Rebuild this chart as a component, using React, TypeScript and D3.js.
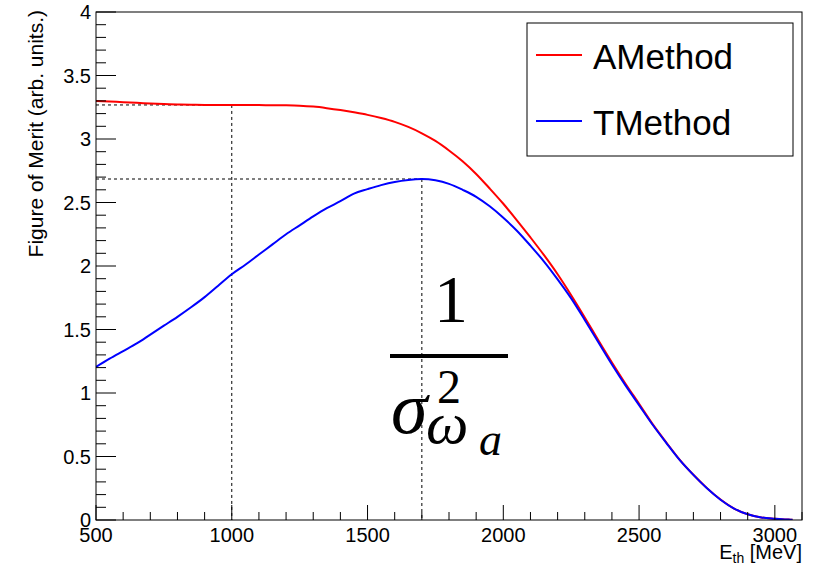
import React from 'react';
import * as d3 from 'd3';

// Threshold energy grid [MeV]
const energies = [
  500, 550, 600, 650, 700, 750, 800, 850, 900, 950,
  1000, 1050, 1100, 1150, 1200, 1250, 1300, 1350, 1400, 1450,
  1500, 1550, 1600, 1650, 1700, 1750, 1800, 1850, 1900, 1950,
  2000, 2050, 2100, 2150, 2200, 2250, 2300, 2350, 2400, 2450,
  2500, 2550, 2600, 2650, 2700, 2750, 2800, 2850, 2900, 2950,
  3000, 3050, 3065,
];

// Figure of merit, A-method
const aMethod = [
  3.30, 3.295, 3.29, 3.285, 3.279, 3.275, 3.272, 3.27, 3.268, 3.268,
  3.268, 3.268, 3.267, 3.266, 3.265, 3.262, 3.255, 3.243, 3.228, 3.21,
  3.19, 3.165, 3.135, 3.095, 3.045, 2.985, 2.91, 2.825, 2.725, 2.61,
  2.49, 2.36, 2.225, 2.085, 1.935, 1.77, 1.595, 1.415, 1.24, 1.073,
  0.915, 0.755, 0.612, 0.474, 0.356, 0.251, 0.161, 0.09, 0.045, 0.02,
  0.01, 0.003, 0.001,
];

// Figure of merit, T-method
const tMethod = [
  1.205, 1.27, 1.33, 1.39, 1.46, 1.53, 1.60, 1.675, 1.755, 1.845,
  1.935, 2.01, 2.09, 2.17, 2.25, 2.32, 2.39, 2.455, 2.51, 2.57,
  2.605, 2.637, 2.662, 2.678, 2.685, 2.675, 2.647, 2.60, 2.545, 2.47,
  2.38, 2.278, 2.16, 2.035, 1.895, 1.745, 1.575, 1.40, 1.225, 1.06,
  0.905, 0.75, 0.608, 0.471, 0.355, 0.25, 0.16, 0.09, 0.045, 0.02,
  0.01, 0.003, 0.001,
];

const xTicks = [500, 1000, 1500, 2000, 2500, 3000];
const xTickLabels = ['500', '1000', '1500', '2000', '2500', '3000'];
const yTicks = [0, 0.5, 1, 1.5, 2, 2.5, 3, 3.5, 4];
const yTickLabels = ['0', '0.5', '1', '1.5', '2', '2.5', '3', '3.5', '4'];

const seriesNames = ['AMethod', 'TMethod'];
const seriesColors = ['#ff0000', '#0000ff'];

// Reference energies for the guide lines
const refEnergyA = 1000;
const refEnergyT = 1700;

const W = 813;
const H = 563;
const FONT = '"Liberation Sans", Arial, Helvetica, sans-serif';
const SERIF = '"Liberation Serif", "DejaVu Serif", serif';

export default function App() {
  const x = d3.scaleLinear().domain([500, 3100]).range([96, 802]);
  const y = d3.scaleLinear().domain([0, 4]).range([520, 12]);
  const [x0, x1] = x.range();
  const [yb, yt] = y.range();

  const line = d3
    .line<number>()
    .x((_, i) => x(energies[i]))
    .y((d) => y(d))
    .curve(d3.curveMonotoneX);

  const xMinor = d3.range(500, 3101, 100).filter((v) => v % 500 !== 0);
  const yMinor = d3.range(0, 41).map((v) => v / 10).filter((v) => Math.round(v * 10) % 5 !== 0);

  const aRef = aMethod[energies.indexOf(refEnergyA)];
  const tRef = tMethod[energies.indexOf(refEnergyT)];

  return (
    <div style={{ position: 'fixed', left: 0, top: 0 }}>
      <svg width={W} height={H} style={{ display: 'block', background: '#fff' }}>
        <defs>
          <clipPath id="frame">
            <rect x={x0} y={yt} width={x1 - x0} height={yb - yt} />
          </clipPath>
        </defs>

        {/* guide lines */}
        <g stroke="#000" strokeWidth={1} strokeDasharray="3,3" fill="none">
          <line x1={x0} x2={x(refEnergyA)} y1={y(aRef)} y2={y(aRef)} />
          <line x1={x(refEnergyA)} x2={x(refEnergyA)} y1={y(aRef)} y2={yb} />
          <line x1={x0} x2={x(refEnergyT)} y1={y(tRef)} y2={y(tRef)} />
          <line x1={x(refEnergyT)} x2={x(refEnergyT)} y1={y(tRef)} y2={yb} />
        </g>

        {/* curves */}
        <g clipPath="url(#frame)" fill="none" strokeWidth={2}>
          <path d={line(aMethod) || ''} stroke={seriesColors[0]} />
          <path d={line(tMethod) || ''} stroke={seriesColors[1]} />
        </g>

        {/* frame */}
        <rect x={x0} y={yt} width={x1 - x0} height={yb - yt} fill="none" stroke="#000" strokeWidth={1} />

        {/* axis ticks */}
        <g stroke="#000" strokeWidth={1}>
          {xTicks.map((v) => (
            <line key={'xm' + v} x1={x(v)} x2={x(v)} y1={yb} y2={yb - 15} />
          ))}
          {xMinor.map((v) => (
            <line key={'xn' + v} x1={x(v)} x2={x(v)} y1={yb} y2={yb - 8} />
          ))}
          {yTicks.map((v) => (
            <line key={'ym' + v} x1={x0} x2={x0 + 20} y1={y(v)} y2={y(v)} />
          ))}
          {yMinor.map((v) => (
            <line key={'yn' + v} x1={x0} x2={x0 + 10} y1={y(v)} y2={y(v)} />
          ))}
        </g>

        {/* tick labels */}
        <g fontFamily={FONT} fontSize={20} fill="#000">
          {xTicks.map((v, i) => (
            <text key={'xl' + v} x={x(v)} y={542} textAnchor="middle">
              {xTickLabels[i]}
            </text>
          ))}
          {yTicks.map((v, i) => (
            <text key={'yl' + v} x={91} y={y(v) + 7} textAnchor="end">
              {yTickLabels[i]}
            </text>
          ))}
        </g>

        {/* axis titles */}
        <text
          fontFamily={FONT}
          fontSize={21}
          textAnchor="end"
          transform={`translate(43,${yt - 2}) rotate(-90)`}
        >
          Figure of Merit (arb. units.)
        </text>
        <text fontFamily={FONT} fontSize={20} x={x1} y={559} textAnchor="end">
          E
          <tspan fontSize={14} dy={4}>th</tspan>
          <tspan dy={-4}> [MeV]</tspan>
        </text>

        {/* legend */}
        <g>
          <rect x={527} y={23} width={266} height={133} fill="#fff" stroke="#000" strokeWidth={1} />
          {seriesNames.map((name, i) => (
            <g key={name}>
              <line x1={536} x2={582} y1={55 + i * 66} y2={55 + i * 66} stroke={seriesColors[i]} strokeWidth={2} />
              <text x={593} y={69 + i * 66} fontFamily={FONT} fontSize={35} fill="#000">
                {name}
              </text>
            </g>
          ))}
        </g>

        {/* 1 / sigma^2_{omega_a} */}
        <g fontFamily={SERIF} fill="#000">
          <text x={451} y={322} fontSize={68} textAnchor="middle">1</text>
          <rect x={390} y={354} width={118} height={4} />
          <text x={391} y={433} fontSize={74} fontStyle="italic">σ</text>
          <text x={437} y={403} fontSize={48}>2</text>
          <text x={426} y={443} fontSize={60} fontStyle="italic">ω</text>
          <text x={479} y={455} fontSize={46} fontStyle="italic">a</text>
        </g>
      </svg>
    </div>
  );
}
